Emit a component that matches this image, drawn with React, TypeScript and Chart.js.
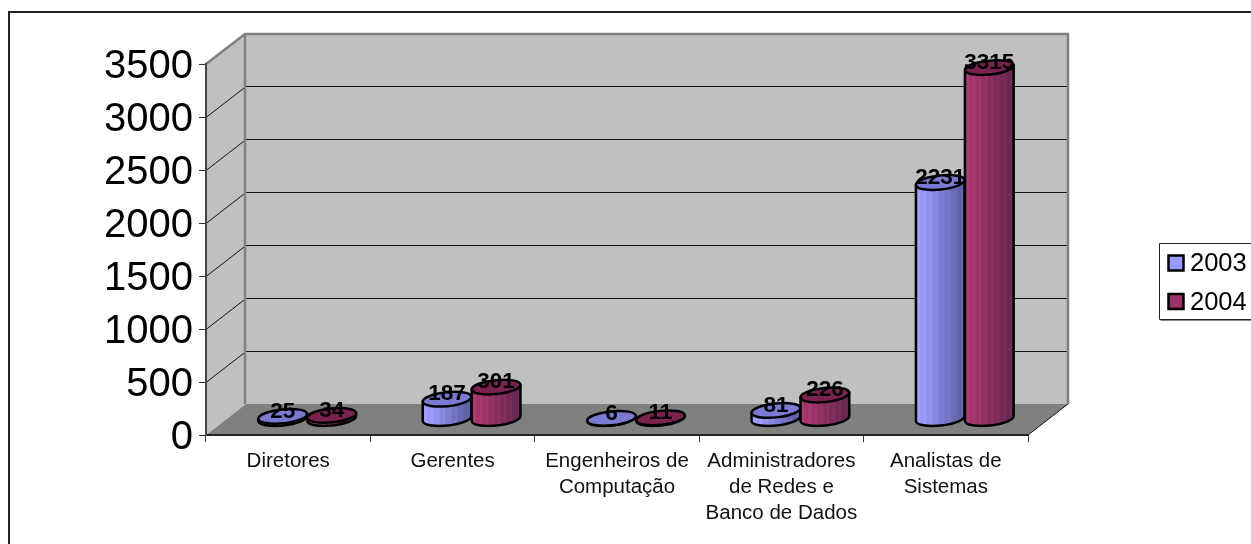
import React, { useEffect, useRef } from "react";
import { Chart, registerables } from "chart.js";

Chart.register(...registerables);

const categories: (string | string[])[] = [
  "Diretores",
  "Gerentes",
  ["Engenheiros de", "Computação"],
  ["Administradores", "de Redes e", "Banco de Dados"],
  ["Analistas de", "Sistemas"],
];
const series2003 = [25, 187, 6, 81, 2231];
const series2004 = [34, 301, 11, 226, 3315];

const FONT = '"Liberation Sans", Arial, sans-serif';
const DEPTH_X = 40;
const DEPTH_Y = -31;
const BAR_DX = 19;
const BAR_DY = -16;

const PALETTE = [
  { light: [156, 156, 255], dark: [88, 88, 155], top: "#7a7ad2", fill: "#9999ff" },
  { light: [168, 52, 110], dark: [96, 36, 76], top: "#7c2250", fill: "#993366" },
];

function bodyGradient(ctx: CanvasRenderingContext2D, x0: number, x1: number, p: typeof PALETTE[number]) {
  const g = ctx.createLinearGradient(x0, 0, x1, 0);
  const mix = (t: number, lift: number) => {
    const k = t < 0.2 ? t * 0.5 : 0.1 + (t - 0.2) * 1.125;
    return p.light.map((c, i) => Math.round(c + (p.dark[i] - c) * k + lift)).join(",");
  };
  const bands = 24;
  for (let b = 0; b < bands; b++) {
    const t0 = b / bands;
    const t1 = (b + 1) / bands;
    const c = mix((t0 + t1) / 2, b % 3 === 1 ? 7 : 0);
    g.addColorStop(t0, `rgb(${c})`);
    g.addColorStop(t1 - 0.0001, `rgb(${c})`);
  }
  return g;
}

const backdropPlugin = {
  id: "backdrop",
  beforeDraw(chart: any) {
    const { ctx, chartArea: a, scales } = chart;
    const yS = scales.y;
    const L = a.left, R = a.right, T = a.top, B = a.bottom;
    ctx.save();

    // outer frame
    ctx.strokeStyle = "#222";
    ctx.lineWidth = 2;
    ctx.beginPath();
    ctx.moveTo(9, 544);
    ctx.lineTo(9, 12);
    ctx.lineTo(1251, 12);
    ctx.stroke();

    // back wall
    ctx.fillStyle = "#c0c0c0";
    ctx.fillRect(L + DEPTH_X, T + DEPTH_Y, R - L, B - T);
    // side wall
    ctx.beginPath();
    ctx.moveTo(L, T);
    ctx.lineTo(L + DEPTH_X, T + DEPTH_Y);
    ctx.lineTo(L + DEPTH_X, B + DEPTH_Y);
    ctx.lineTo(L, B);
    ctx.closePath();
    ctx.fill();
    // floor
    ctx.fillStyle = "#808080";
    ctx.beginPath();
    ctx.moveTo(L, B);
    ctx.lineTo(L + DEPTH_X, B + DEPTH_Y);
    ctx.lineTo(R + DEPTH_X, B + DEPTH_Y);
    ctx.lineTo(R, B);
    ctx.closePath();
    ctx.fill();

    // grid lines on both walls
    ctx.strokeStyle = "#111";
    ctx.lineWidth = 1;
    yS.ticks.forEach((t: any) => {
      if (t.value === yS.min || t.value === yS.max) return;
      const py = Math.round(yS.getPixelForValue(t.value)) + 0.5;
      ctx.beginPath();
      ctx.moveTo(L, py);
      ctx.lineTo(L + DEPTH_X, py + DEPTH_Y);
      ctx.lineTo(R + DEPTH_X, py + DEPTH_Y);
      ctx.stroke();
    });

    // wall edges
    ctx.strokeStyle = "#808080";
    ctx.lineWidth = 2.5;
    ctx.beginPath();
    ctx.moveTo(L, T);
    ctx.lineTo(L + DEPTH_X - 1, T + DEPTH_Y + 1);
    ctx.lineTo(R + DEPTH_X, T + DEPTH_Y + 1);
    ctx.lineTo(R + DEPTH_X, B + DEPTH_Y);
    ctx.moveTo(L + DEPTH_X - 1, T + DEPTH_Y + 1);
    ctx.lineTo(L + DEPTH_X - 1, B + DEPTH_Y);
    ctx.stroke();

    // floor diagonal at the right
    ctx.strokeStyle = "#111";
    ctx.lineWidth = 1;
    ctx.beginPath();
    ctx.moveTo(R, B);
    ctx.lineTo(R + DEPTH_X, B + DEPTH_Y);
    ctx.stroke();

    // legend
    const lx = 1159, ly = 243, lb = 320;
    ctx.fillStyle = "#fff";
    ctx.fillRect(lx, ly, 1251 - lx, lb - ly);
    ctx.strokeStyle = "#222";
    ctx.lineWidth = 1;
    ctx.beginPath();
    ctx.moveTo(1251, ly + 0.5);
    ctx.lineTo(lx + 0.5, ly + 0.5);
    ctx.lineTo(lx + 0.5, lb - 0.5);
    ctx.lineTo(1251, lb - 0.5);
    ctx.stroke();
    ctx.strokeStyle = "#888";
    ctx.beginPath();
    ctx.moveTo(lx + 1.5, lb + 0.5);
    ctx.lineTo(1251, lb + 0.5);
    ctx.stroke();
    chart.data.datasets.forEach((d: any, i: number) => {
      const cy = 263 + i * 38.5;
      ctx.fillStyle = d.backgroundColor;
      ctx.fillRect(1168.5, cy - 7.5, 15, 15);
      ctx.strokeStyle = "#000";
      ctx.lineWidth = 2.5;
      ctx.strokeRect(1168.5, cy - 7.5, 15, 15);
      ctx.fillStyle = "#000";
      ctx.font = `25.5px ${FONT}`;
      ctx.textAlign = "left";
      ctx.textBaseline = "middle";
      ctx.fillText(d.label, 1190, cy + 1);
    });
    ctx.restore();
  },
  beforeDatasetDraw() {
    return false;
  },
  afterDatasetsDraw(chart: any) {
    const { ctx } = chart;
    ctx.save();
    const tilt = (-6 * Math.PI) / 180;
    chart.data.datasets.forEach((_: any, di: number) => {
      const meta = chart.getDatasetMeta(di);
      const p = PALETTE[di];
      meta.data.forEach((bar: any) => {
        const cx = bar.x + BAR_DX;
        const rx = bar.width / 2;
        const ry = 7;
        const topY = bar.y + BAR_DY;
        const baseY = bar.base + BAR_DY;
        const ex = rx * Math.cos(tilt);
        const ey = rx * Math.sin(tilt);

        // body
        ctx.beginPath();
        ctx.moveTo(cx - ex, topY - ey);
        ctx.lineTo(cx - ex, baseY - ey);
        ctx.ellipse(cx, baseY, rx, ry, tilt, Math.PI, 0, true);
        ctx.lineTo(cx + ex, topY + ey);
        ctx.closePath();
        ctx.fillStyle = bodyGradient(ctx, cx - rx, cx + rx, p);
        ctx.fill();
        ctx.strokeStyle = "#000";
        ctx.lineWidth = 2.5;
        ctx.lineJoin = "round";
        ctx.stroke();

        // top cap
        ctx.beginPath();
        ctx.ellipse(cx, topY, rx, ry, tilt, 0, Math.PI * 2);
        ctx.fillStyle = p.top;
        ctx.fill();
        ctx.stroke();
      });
    });
    // data labels
    ctx.fillStyle = "#000";
    ctx.font = `bold 22.5px ${FONT}`;
    ctx.textAlign = "center";
    ctx.textBaseline = "middle";
    chart.data.datasets.forEach((d: any, di: number) => {
      chart.getDatasetMeta(di).data.forEach((bar: any, i: number) => {
        ctx.fillText(String(d.data[i]), bar.x + BAR_DX, bar.y + BAR_DY - 5);
      });
    });
    ctx.restore();
  },
};

export default function App() {
  const ref = useRef<HTMLCanvasElement>(null);
  useEffect(() => {
    const chart = new Chart(ref.current as HTMLCanvasElement, {
      type: "bar",
      data: {
        labels: categories as any,
        datasets: [
          { label: "2003", data: series2003, backgroundColor: PALETTE[0].fill, borderColor: "#000" },
          { label: "2004", data: series2004, backgroundColor: PALETTE[1].fill, borderColor: "#000" },
        ],
      },
      options: {
        animation: false,
        responsive: false,
        devicePixelRatio: 1,
        layout: { padding: { top: 64, right: 223, left: 0, bottom: 0 } },
        plugins: { legend: { display: false }, tooltip: { enabled: false }, title: { display: false } },
        datasets: { bar: { categoryPercentage: 0.596, barPercentage: 1 } },
        scales: {
          x: {
            afterFit: (s: any) => { s.height = 109; },
            grid: { drawOnChartArea: false, drawTicks: true, tickLength: 7, color: "#333", tickColor: "#333" },
            border: { color: "#222", width: 2 },
            ticks: {
              color: "#111",
              maxRotation: 0,
              minRotation: 0,
              autoSkip: false,
              padding: 6,
              font: { family: FONT, size: 20.5, lineHeight: 1.27 },
            },
          },
          y: {
            min: 0,
            max: 3500,
            afterFit: (s: any) => { s.width = 206; },
            grid: { drawOnChartArea: false, drawTicks: true, tickLength: 7, color: "#333", tickColor: "#333" },
            border: { color: "#444", width: 2 },
            ticks: {
              stepSize: 500,
              color: "#000",
              padding: 6,
              labelOffset: 3,
              callback: (v: any) => String(v),
              font: { family: FONT, size: 40 },
            },
          },
        },
      },
      plugins: [backdropPlugin],
    } as any);
    return () => chart.destroy();
  }, []);
  return (
    <canvas
      ref={ref}
      width={1251}
      height={544}
      style={{ position: "absolute", left: 0, top: 0, display: "block" }}
    />
  );
}
